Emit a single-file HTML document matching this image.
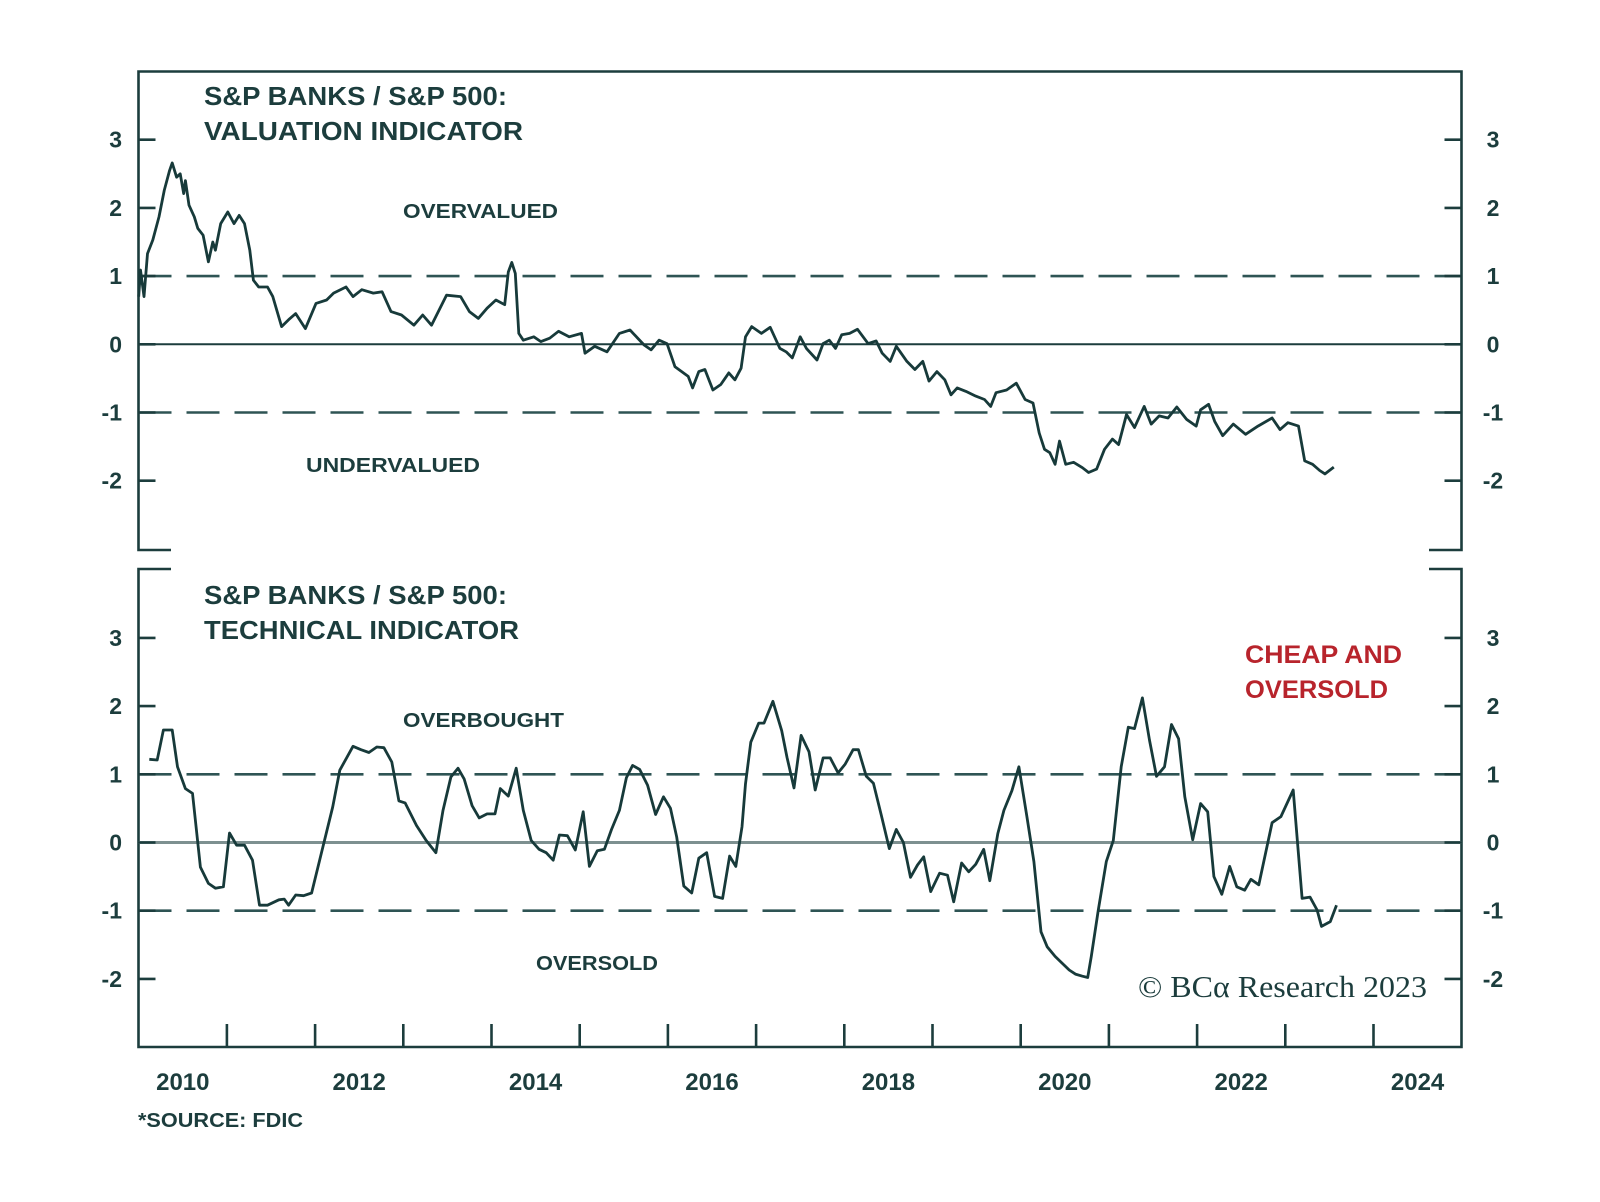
<!DOCTYPE html>
<html><head><meta charset="utf-8">
<style>
html,body{margin:0;padding:0;background:#fff;}
svg{display:block;}
text{font-family:"Liberation Sans",sans-serif;font-weight:bold;fill:#1c3d3d;}
</style></head>
<body>
<svg id="chart" width="1600" height="1202" viewBox="0 0 1600 1202" xmlns="http://www.w3.org/2000/svg">
<g id="frames"></g>
<g id="grid"></g>
<g id="axes"></g>
<g id="series"></g>
<g id="labels">
  <text x="204" y="105" font-size="26" textLength="303" lengthAdjust="spacingAndGlyphs">S&amp;P BANKS / S&amp;P 500:</text>
  <text x="204" y="140" font-size="26" textLength="319" lengthAdjust="spacingAndGlyphs">VALUATION INDICATOR</text>
  <text x="204" y="604" font-size="26" textLength="303" lengthAdjust="spacingAndGlyphs">S&amp;P BANKS / S&amp;P 500:</text>
  <text x="204" y="639" font-size="26" textLength="315" lengthAdjust="spacingAndGlyphs">TECHNICAL INDICATOR</text>
  <text x="403" y="218" font-size="20" textLength="155" lengthAdjust="spacingAndGlyphs">OVERVALUED</text>
  <text x="306" y="472" font-size="20" textLength="174" lengthAdjust="spacingAndGlyphs">UNDERVALUED</text>
  <text x="403" y="727" font-size="20" textLength="161" lengthAdjust="spacingAndGlyphs">OVERBOUGHT</text>
  <text x="536" y="970" font-size="20" textLength="122" lengthAdjust="spacingAndGlyphs">OVERSOLD</text>
  <text x="1245" y="663" font-size="25" textLength="157" lengthAdjust="spacingAndGlyphs" style="fill:#b8242c">CHEAP AND</text>
  <text x="1245" y="698" font-size="25" textLength="143" lengthAdjust="spacingAndGlyphs" style="fill:#b8242c">OVERSOLD</text>
  <text x="1138" y="997" font-size="31" textLength="289" lengthAdjust="spacingAndGlyphs" style="font-family:'Liberation Serif',serif;font-weight:normal;fill:#1c3d3d">© BCα Research 2023</text>
  <text x="138" y="1127" font-size="20" textLength="165" lengthAdjust="spacingAndGlyphs">*SOURCE: FDIC</text>
</g>
</svg>
<script>
// ---- data ----
const valYears = [2010.00,2010.02,2010.06,2010.10,2010.16,2010.23,2010.29,2010.35,2010.38,2010.43,2010.47,2010.51,2010.53,2010.57,2010.63,2010.67,2010.73,2010.79,2010.84,2010.87,2010.93,2011.01,2011.08,2011.14,2011.20,2011.26,2011.30,2011.36,2011.46,2011.52,2011.62,2011.70,2011.78,2011.89,2012.01,2012.13,2012.21,2012.35,2012.43,2012.53,2012.66,2012.76,2012.86,2012.98,2013.12,2013.22,2013.32,2013.49,2013.65,2013.75,2013.85,2013.95,2014.05,2014.15,2014.19,2014.23,2014.27,2014.31,2014.36,2014.48,2014.56,2014.66,2014.76,2014.88,2015.02,2015.06,2015.17,2015.31,2015.45,2015.57,2015.73,2015.81,2015.90,2015.99,2016.08,2016.23,2016.28,2016.35,2016.42,2016.51,2016.60,2016.69,2016.76,2016.83,2016.88,2016.95,2017.06,2017.16,2017.27,2017.34,2017.41,2017.50,2017.57,2017.69,2017.76,2017.83,2017.90,2017.97,2018.06,2018.15,2018.27,2018.36,2018.43,2018.52,2018.59,2018.71,2018.80,2018.89,2018.96,2019.05,2019.14,2019.21,2019.28,2019.38,2019.49,2019.59,2019.66,2019.72,2019.84,2019.95,2020.05,2020.14,2020.21,2020.27,2020.33,2020.39,2020.44,2020.51,2020.60,2020.70,2020.77,2020.86,2020.95,2021.04,2021.11,2021.20,2021.29,2021.40,2021.48,2021.57,2021.67,2021.77,2021.88,2021.99,2022.04,2022.13,2022.20,2022.29,2022.41,2022.55,2022.69,2022.85,2022.94,2023.03,2023.15,2023.22,2023.31,2023.39,2023.45,2023.55];
const valValues = [0.70,1.09,0.70,1.33,1.53,1.87,2.26,2.55,2.66,2.45,2.50,2.21,2.40,2.04,1.87,1.70,1.60,1.21,1.50,1.38,1.77,1.94,1.77,1.89,1.77,1.38,0.94,0.84,0.84,0.70,0.26,0.36,0.45,0.23,0.60,0.65,0.75,0.84,0.70,0.80,0.75,0.77,0.48,0.43,0.28,0.43,0.28,0.72,0.70,0.48,0.38,0.53,0.65,0.58,1.06,1.20,1.04,0.16,0.06,0.11,0.04,0.09,0.19,0.11,0.16,-0.13,-0.03,-0.11,0.16,0.21,-0.01,-0.08,0.06,0.01,-0.33,-0.47,-0.64,-0.40,-0.37,-0.67,-0.59,-0.42,-0.52,-0.35,0.11,0.26,0.16,0.25,-0.06,-0.11,-0.20,0.11,-0.06,-0.23,0.01,0.06,-0.06,0.14,0.16,0.22,0.01,0.05,-0.13,-0.25,-0.03,-0.25,-0.37,-0.25,-0.54,-0.40,-0.52,-0.74,-0.64,-0.69,-0.76,-0.81,-0.91,-0.71,-0.67,-0.57,-0.81,-0.86,-1.30,-1.54,-1.59,-1.76,-1.42,-1.76,-1.73,-1.81,-1.88,-1.83,-1.54,-1.39,-1.47,-1.03,-1.22,-0.91,-1.17,-1.05,-1.08,-0.92,-1.10,-1.20,-0.96,-0.88,-1.13,-1.34,-1.17,-1.32,-1.20,-1.08,-1.25,-1.15,-1.20,-1.71,-1.76,-1.85,-1.90,-1.80];
const techYears = [2010.12,2010.21,2010.28,2010.38,2010.44,2010.53,2010.61,2010.70,2010.79,2010.87,2010.96,2011.03,2011.11,2011.20,2011.29,2011.37,2011.46,2011.59,2011.65,2011.70,2011.78,2011.87,2011.96,2012.07,2012.20,2012.28,2012.37,2012.43,2012.52,2012.61,2012.70,2012.78,2012.87,2012.95,2013.02,2013.15,2013.26,2013.37,2013.45,2013.54,2013.62,2013.69,2013.78,2013.86,2013.95,2014.04,2014.10,2014.19,2014.28,2014.36,2014.45,2014.54,2014.62,2014.70,2014.77,2014.86,2014.95,2015.04,2015.11,2015.20,2015.28,2015.36,2015.45,2015.53,2015.60,2015.68,2015.77,2015.86,2015.95,2016.03,2016.10,2016.18,2016.27,2016.35,2016.44,2016.53,2016.62,2016.70,2016.77,2016.84,2016.88,2016.94,2017.03,2017.09,2017.19,2017.29,2017.35,2017.43,2017.51,2017.60,2017.67,2017.76,2017.84,2017.93,2018.01,2018.10,2018.16,2018.25,2018.33,2018.42,2018.51,2018.59,2018.67,2018.75,2018.83,2018.90,2018.98,2019.08,2019.17,2019.24,2019.33,2019.41,2019.49,2019.58,2019.65,2019.74,2019.81,2019.90,2019.98,2020.07,2020.15,2020.23,2020.30,2020.39,2020.47,2020.55,2020.62,2020.70,2020.76,2020.80,2020.88,2020.97,2021.05,2021.14,2021.22,2021.29,2021.38,2021.46,2021.54,2021.63,2021.71,2021.79,2021.86,2021.95,2022.04,2022.12,2022.19,2022.28,2022.37,2022.45,2022.54,2022.61,2022.70,2022.85,2022.95,2023.09,2023.19,2023.28,2023.36,2023.41,2023.51,2023.58];
const techValues = [1.22,1.21,1.65,1.65,1.11,0.79,0.72,-0.36,-0.60,-0.67,-0.65,0.14,-0.04,-0.04,-0.26,-0.92,-0.92,-0.84,-0.83,-0.92,-0.77,-0.78,-0.74,-0.16,0.52,1.06,1.27,1.41,1.36,1.32,1.40,1.39,1.18,0.61,0.58,0.25,0.03,-0.15,0.47,0.96,1.09,0.93,0.54,0.36,0.42,0.42,0.79,0.68,1.09,0.47,0.03,-0.10,-0.15,-0.26,0.11,0.10,-0.11,0.45,-0.35,-0.12,-0.10,0.19,0.47,0.95,1.13,1.07,0.84,0.41,0.67,0.50,0.08,-0.64,-0.74,-0.23,-0.15,-0.79,-0.82,-0.20,-0.35,0.23,0.86,1.47,1.75,1.75,2.07,1.64,1.25,0.80,1.57,1.33,0.77,1.24,1.24,1.02,1.15,1.36,1.36,0.97,0.87,0.40,-0.09,0.19,0.00,-0.51,-0.33,-0.21,-0.72,-0.45,-0.48,-0.87,-0.30,-0.43,-0.32,-0.10,-0.56,0.13,0.47,0.76,1.11,0.38,-0.28,-1.31,-1.53,-1.67,-1.77,-1.87,-1.93,-1.96,-1.98,-1.67,-0.99,-0.28,0.03,1.11,1.69,1.67,2.12,1.50,0.97,1.11,1.73,1.52,0.67,0.04,0.57,0.45,-0.50,-0.76,-0.35,-0.65,-0.70,-0.54,-0.62,0.29,0.38,0.77,-0.82,-0.80,-0.99,-1.23,-1.16,-0.92];
const yTicks = [3,2,1,0,-1,-2];
const yTickLabels = ["3","2","1","0","-1","-2"];
const xLabelYears = [2010,2012,2014,2016,2018,2020,2022,2024];
const xTickYears = [2011,2012,2013,2014,2015,2016,2017,2018,2019,2020,2021,2022,2023,2024];
const refLevels = [1,-1];

// ---- layout ----
const NS="http://www.w3.org/2000/svg";
const C="#1c3d3d";
const L=138.5,R=1461.5;
const X0=138.7,PX=88.2;
const x=t=>X0+(t-2010)*PX;
const UNIT=68.2;
const yTop=v=>344.3-v*UNIT;
const yBot=v=>842.5-v*UNIT;
function mk(tag,attrs,parent){const e=document.createElementNS(NS,tag);for(const k in attrs)e.setAttribute(k,attrs[k]);parent.appendChild(e);return e;}
const frames=document.getElementById('frames'),grid=document.getElementById('grid'),axes=document.getElementById('axes'),series=document.getElementById('series');

let f1=mk('path',{d:`M171 550 H${L} V71.5 H${R} V550 H1429`,fill:'none',stroke:C,'stroke-width':2.6},frames);


let f2=mk('path',{d:`M171 569 H${L} V1047 H${R} V569 H1429`,fill:'none',stroke:C,'stroke-width':2.6},frames);



[[yTop,'valuation'],[yBot,'technical']].forEach(([ys,nm])=>{
  const z=mk('line',{x1:L,x2:R,y1:ys(0),y2:ys(0),stroke:nm==='valuation'?C:'#7d9090','stroke-width':nm==='valuation'?2:3},grid);
  
  
  refLevels.forEach(v=>{
    const d=mk('line',{x1:L,x2:R,y1:ys(v),y2:ys(v),stroke:'#2e5454','stroke-width':2.6,'stroke-dasharray':'33 15'},grid);
    
    
  });
});

[[yTop,'valuation'],[yBot,'technical']].forEach(([ys,nm])=>{
  yTicks.forEach((v,i)=>{
    const yy=ys(v);
    const t1=mk('line',{x1:L,x2:L+17,y1:yy,y2:yy,stroke:C,'stroke-width':2.6},axes);
    
    
    const t2=mk('line',{x1:R-17,x2:R,y1:yy,y2:yy,stroke:C,'stroke-width':2.6},axes);
    
    
    const a=mk('text',{x:122,y:yy+8,'font-size':23,'text-anchor':'end'},axes);
    a.textContent=yTickLabels[i];
    
    
    const b=mk('text',{x:1493,y:yy+8,'font-size':23,'text-anchor':'middle'},axes);
    b.textContent=yTickLabels[i];
    
    
  });
});

xTickYears.forEach(t=>{
  const l=mk('line',{x1:x(t),x2:x(t),y1:1024,y2:1047,stroke:C,'stroke-width':2.6},axes);
  
  
});
xLabelYears.forEach(t=>{
  const tx=mk('text',{x:x(t+0.5),y:1090,'font-size':24,'text-anchor':'middle'},axes);
  tx.textContent=String(t);
  
  
});

function line(xs,vs,ys,name){
  const d=xs.map((t,i)=>(i?'L':'M')+x(t).toFixed(1)+' '+ys(vs[i]).toFixed(1)).join(' ');
  const p=mk('path',{d:d,fill:'none',stroke:'#173a3a','stroke-width':2.8,'stroke-linejoin':'round'},series);
  
  
}
line(valYears,valValues,yTop,'valuation-indicator-line');
line(techYears,techValues,yBot,'technical-indicator-line');
</script>
</body></html>
